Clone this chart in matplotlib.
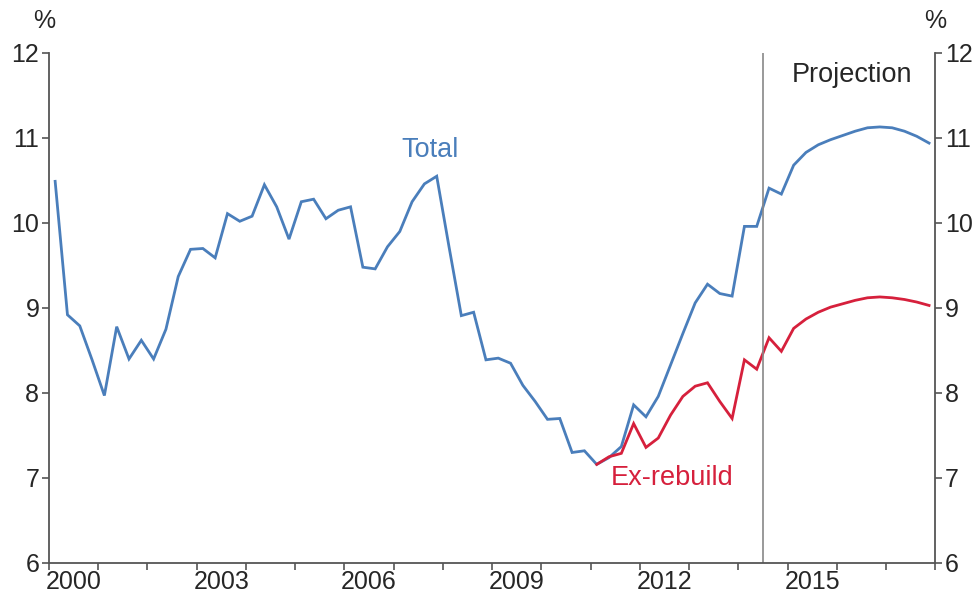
import matplotlib
matplotlib.use("Agg")
import matplotlib.pyplot as plt
import numpy as np

plt.rcParams['font.family'] = ['Liberation Sans', 'DejaVu Sans']

start_year = 2000
total = [
    10.49, 8.92, 8.79, 8.39,
    7.97, 8.78, 8.40, 8.62,
    8.40, 8.75, 9.37, 9.69,
    9.70, 9.59, 10.11, 10.02,
    10.08, 10.45, 10.19, 9.81,
    10.25, 10.28, 10.05, 10.15,
    10.19, 9.48, 9.46, 9.72,
    9.90, 10.25, 10.46, 10.55,
    9.72, 8.91, 8.95, 8.39,
    8.41, 8.35, 8.09, 7.90,
    7.69, 7.70, 7.30, 7.32,
    7.16, 7.24, 7.37, 7.86,
    7.72, 7.96, 8.33, 8.70,
    9.06, 9.28, 9.17, 9.14,
    9.96, 9.96, 10.41, 10.34,
    10.68, 10.83, 10.92, 10.98,
    11.03, 11.08, 11.12, 11.13,
    11.12, 11.08, 11.02, 10.94,
]
ex_rebuild_start = 44  # 2011 Q1
ex_rebuild = [
    7.16, 7.25, 7.29, 7.64,
    7.36, 7.47, 7.74, 7.96,
    8.08, 8.12, 7.90, 7.70,
    8.39, 8.28, 8.65, 8.49,
    8.76, 8.87, 8.95, 9.01,
    9.05, 9.09, 9.12, 9.13,
    9.12, 9.10, 9.07, 9.03,
]
projection_start = 2014.5
year_labels = [2000, 2003, 2006, 2009, 2012, 2015]
y_ticks = [6, 7, 8, 9, 10, 11, 12]

blue = '#4A7EBB'
red = '#D6203C'
axc = '#555555'
txt = '#262626'

t_total = start_year + (np.arange(len(total)) + 0.5) / 4
t_ex = start_year + (np.arange(ex_rebuild_start, ex_rebuild_start + len(ex_rebuild)) + 0.5) / 4

fig = plt.figure(figsize=(9.76, 5.92), dpi=100)
ax = fig.add_axes([0.0502, 0.049, 0.908, 0.8615])

ax.plot(t_total, total, color=blue, lw=2.0, solid_joinstyle='miter')
ax.plot(t_ex, ex_rebuild, color=red, lw=2.0, solid_joinstyle='miter')
ax.axvline(projection_start, color='#888888', lw=1.2)

ax.set_xlim(2000, 2018)
ax.set_ylim(6, 12)

for s in ['left', 'right', 'bottom']:
    ax.spines[s].set_color(axc)
    ax.spines[s].set_linewidth(1.3)
ax.spines['top'].set_visible(False)

# x ticks at year boundaries, labels at mid-year
ax.set_xticks(np.arange(2000, 2019))
ax.set_xticklabels([])
ax.set_xticks([y + 0.5 for y in year_labels], minor=True)
ax.set_xticklabels([str(y) for y in year_labels], minor=True)
ax.tick_params(axis='x', which='major', direction='out', length=5, width=1.2, color=axc)
ax.tick_params(axis='x', which='minor', length=0, pad=5, labelsize=18, labelcolor=txt)

ax.set_yticks(y_ticks)
ax.set_yticklabels([str(v) for v in y_ticks])
ax.tick_params(axis='y', direction='out', length=5, width=1.2, color=axc,
               labelsize=18, labelcolor=txt, pad=2)

ax2 = ax.twinx()
ax2.set_ylim(6, 12)
ax2.set_yticks(y_ticks)
ax2.set_yticklabels([str(v) for v in y_ticks])
ax2.tick_params(axis='y', direction='out', length=5, width=1.2, color=axc,
                labelsize=18, labelcolor=txt, pad=2)
for s in ['left', 'right', 'bottom', 'top']:
    ax2.spines[s].set_visible(False)

ax.text(-0.005, 1.04, '%', transform=ax.transAxes, ha='center', va='bottom',
        fontsize=18, color=txt)
ax.text(1.0, 1.04, '%', transform=ax.transAxes, ha='center', va='bottom',
        fontsize=18, color=txt)

ax.text(2007.74, 10.86, 'Total', color=blue, fontsize=19.5, ha='center', va='center')
ax.text(2012.66, 7.0, 'Ex-rebuild', color=red, fontsize=19.5, ha='center', va='center')
ax.text(2016.32, 11.74, 'Projection', color=txt, fontsize=19.5, ha='center', va='center')

fig.savefig('out.png', dpi=100)
